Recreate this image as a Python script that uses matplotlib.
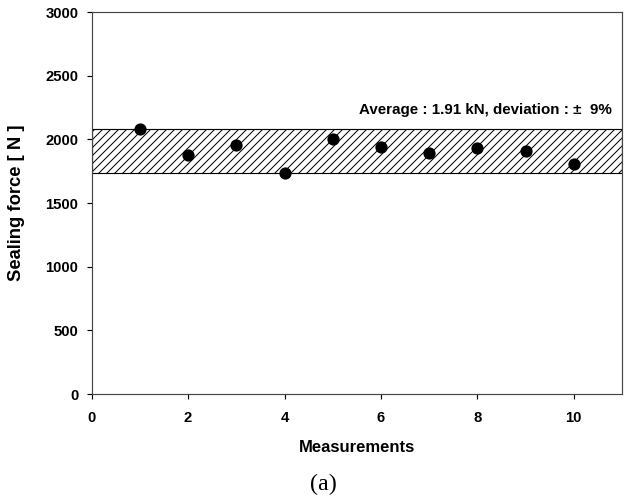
import numpy as np
import matplotlib.pyplot as plt
from matplotlib.patches import Rectangle

# measured sealing force per run
measurements = [1, 2, 3, 4, 5, 6, 7, 8, 9, 10]
sealing_force = [2082, 1877, 1956, 1738, 2000, 1938, 1890, 1935, 1909, 1804]
average_kN = 1.91
deviation = 0.09

x_ticks = [0, 2, 4, 6, 8, 10]
y_ticks = [0, 500, 1000, 1500, 2000, 2500, 3000]

plt.rcParams['font.family'] = ['Liberation Sans', 'DejaVu Sans']
plt.rcParams['hatch.linewidth'] = 0.6

fig = plt.figure(figsize=(626 / 120, 502 / 120), dpi=120)
ax = fig.add_axes([0.1465, 0.2151, 0.9936 - 0.1465, 0.976 - 0.2151])

# band of average +/- deviation
avg = average_kN * 1000
band_lo = avg * (1 - deviation)
band_hi = avg * (1 + deviation)
ax.add_patch(Rectangle((0, band_lo), 11, band_hi - band_lo, facecolor='white',
                       edgecolor='black', hatch='/////', linewidth=0.7, zorder=1))

ax.scatter(measurements, sealing_force, s=40, color='black', zorder=3)

ax.text(10.8, band_hi + 90, 'Average : %.2f kN, deviation : \u00b1  %d%%' % (average_kN, round(deviation * 100)),
        ha='right', va='bottom', fontsize=9.1, fontweight='bold')

ax.set_xlim(0, 11)
ax.set_ylim(0, 3000)
ax.set_xticks(x_ticks)
ax.set_yticks(y_ticks)
ax.tick_params(direction='out', length=3, width=0.7, labelsize=8.9, pad=5)
ax.tick_params(axis='x', pad=7)
for lbl in ax.get_xticklabels() + ax.get_yticklabels():
    lbl.set_fontweight('bold')
for sp in ax.spines.values():
    sp.set_linewidth(0.7)
    sp.set_color('#444444')

ax.set_xlabel('Measurements', fontsize=10, fontweight='bold', labelpad=9)
ax.set_ylabel('Sealing force [ N ]', fontsize=11, fontweight='bold', labelpad=12)

fig.text(323 / 626, 1 - 484 / 502, '(a)', ha='center', va='center',
         fontsize=14.5, family=['Liberation Serif', 'DejaVu Serif'])

fig.savefig('out.png', dpi=120)
